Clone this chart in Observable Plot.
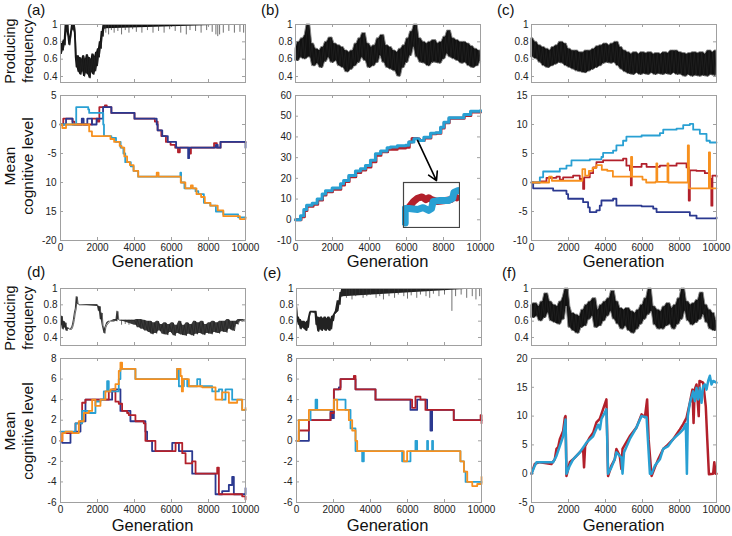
<!DOCTYPE html>
<html><head><meta charset="utf-8">
<script src="https://cdn.jsdelivr.net/npm/d3@7"></script>
<script src="https://cdn.jsdelivr.net/npm/@observablehq/plot@0.6"></script>
<style>
body{margin:0;background:#fff;}
#root{position:relative;width:732px;height:536px;overflow:hidden;font-family:"Liberation Sans",Arial,sans-serif;color:#111;}
.lbl{position:absolute;white-space:nowrap;line-height:1;}
.rot{transform:translate(-50%,-50%) rotate(-90deg);}
.ctr{transform:translate(-50%,-50%);}
</style></head><body><div id="root"></div><script>
// ---------- shared ticks / labels ----------
const xTicks = [0, 2000, 4000, 6000, 8000, 10000];
const freqTicks = [0.4, 0.6, 0.8, 1];
const panelLabels = ["(a)", "(b)", "(c)", "(d)", "(e)", "(f)"];
const xTitle = "Generation";
const yTitleTop = ["Producing", "frequency"];
const yTitleBottom = ["Mean", "cognitive level"];

// sample generations for the noisy producing-frequency traces
const sampleGens = [0,100,200,300,400,500,600,700,800,900,1000,1100,1200,1300,1400,1500,1600,1700,1800,1900,2000,2100,2200,2300,2400,2500,2600,2700,2800,2900,3000,3100,3200,3300,3400,3500,3600,3700,3800,3900,4000,4100,4200,4300,4400,4500,4600,4700,4800,4900,5000,5100,5200,5300,5400,5500,5600,5700,5800,5900,6000,6100,6200,6300,6400,6500,6600,6700,6800,6900,7000,7100,7200,7300,7400,7500,7600,7700,7800,7900,8000,8100,8200,8300,8400,8500,8600,8700,8800,8900,9000,9100,9200,9300,9400,9500,9600,9700,9800,9900,10000];

// ---------- producing frequency ----------
const freqA = [[0,.72],[50,.66],[100,.78],[150,.7],[200,.82],[250,.76],[300,1],[350,.92],[400,1],[450,.86],[500,.76],[550,.84],[600,.92],[650,1],[700,.94],[750,1],[800,.9],[850,.62],[900,.5],[950,.64],[1000,.45],[1050,.62],[1100,.42],[1150,.6],[1200,.46],[1250,.64],[1300,.4],[1350,.6],[1400,.44],[1450,.65],[1500,.42],[1550,.62],[1600,.38],[1650,.6],[1700,.45],[1750,.66],[1800,.42],[1850,.63],[1900,.46],[1950,.68],[2000,.52],[2050,.72],[2100,.62],[2150,.8],[2200,.72],[2250,.92],[2300,.86],[2350,1],[2400,.95],[2450,1],[10000,1]];
const spikesA = [[2450,0.9],[2600,0.88],[2750,0.93],[2900,0.9],[3100,0.92],[3300,0.88],[3500,0.93],[3700,0.9],[3900,0.94],[4100,0.91],[4400,0.9],[4700,0.93],[5000,0.9],[5300,0.92],[5600,0.9],[5900,0.94],[6200,0.92],[6500,0.9],[6800,0.88],[7000,0.93],[7300,0.92],[7600,0.9],[7900,0.93],[8200,0.91],[8400,0.88],[8500,0.86],[8600,0.88],[8800,0.9],[9100,0.92],[9400,0.9],[9700,0.91],[9900,0.9]];
const freqB = [.72,.58,.8,.62,.84,.6,.88,1.0,.62,.78, .52,.72,.55,.7,.5,.74,.57,.8,.62,.85, .56,.78,.58,.76,.52,.74,.5,.7,.45,.68, .48,.7,.52,.78,.56,.84,.62,.9,.58,.78, .5,.74,.52,.76,.56,.84,.64,.88,.56,.76, .5,.74,.48,.7,.46,.68,.4,.72,.5,.76, .56,.84,.64,.92,.74,1.0,.62,.84,.56,.8, .55,.78,.52,.8,.56,.82,.56,.78,.55,.8, .6,.86,.66,.93,.62,.84,.6,.82,.58,.8, .55,.8,.56,.78,.52,.75,.5,.72,.52,.7, .58];
const freqC = [.84,.62,.8,.6,.76,.56,.74,.52,.72,.5, .7,.52,.74,.54,.76,.56,.8,.55,.78,.52, .72,.5,.7,.48,.7,.46,.68,.45,.68,.44, .7,.46,.7,.48,.72,.5,.75,.52,.76,.55, .78,.56,.76,.55,.78,.56,.8,.52,.74,.48, .7,.45,.68,.43,.66,.42,.68,.44,.66,.42, .68,.43,.67,.42,.68,.44,.66,.42,.67,.43, .66,.42,.68,.43,.67,.42,.7,.44,.7,.42, .68,.42,.67,.4,.66,.42,.67,.4,.68,.41, .67,.4,.68,.41,.66,.4,.7,.42,.68,.41, .7];
const freqD = [[0,.68],[50,.56],[100,.66],[150,.5],[200,.6],[250,.52],[300,.58],[350,.48],[400,.52],[500,.5],[600,.5],[650,.52],[700,.56],[750,.62],[800,.7],[850,.75],[900,.9],[950,.82],[1000,.8],[2000,.8],[2050,.78],[2100,.72],[2150,.78],[2200,.62],[2250,.7],[2300,.55],[2350,.5],[2400,.45],[2450,.52],[2500,.55],[2600,.58],[2700,.6],[2900,.6],[3000,.62],[3050,.6],[3100,.72],[3150,.62],[3200,.61],[4000,.61],[4100,.55],[4150,.62],[4300,.52],[4350,.62],[4500,.5],[4550,.61],[4700,.48],[4750,.6],[4850,.46],[4900,.6],[5000,.44],[5100,.58],[5200,.45],[5300,.6],[5400,.48],[5500,.56],[5600,.44],[5700,.58],[5800,.43],[5900,.56],[6000,.46],[6100,.58],[6200,.42],[6300,.55],[6400,.45],[6500,.6],[6600,.43],[6700,.55],[6800,.42],[6900,.58],[7000,.44],[7100,.56],[7200,.42],[7300,.6],[7400,.44],[7500,.58],[7600,.45],[7700,.6],[7800,.43],[7900,.56],[8000,.45],[8100,.58],[8200,.44],[8300,.6],[8400,.46],[8500,.58],[8600,.45],[8700,.6],[8800,.47],[8900,.6],[9000,.46],[9100,.62],[9200,.5],[9300,.6],[9400,.48],[9500,.6],[9600,.56],[9700,.62],[9800,.6],[10000,.62]];
const spikesD = [[3300,0.55],[3500,0.56],[3700,0.55],[3850,0.57]];
const freqE = [[0,.8],[50,.6],[100,.65],[150,.55],[200,.62],[250,.5],[300,.6],[350,.52],[400,.6],[450,.5],[500,.58],[550,.48],[600,.6],[650,.52],[700,.65],[750,.7],[800,.72],[1000,.7],[1050,.72],[1100,.55],[1150,.65],[1200,.47],[1250,.64],[1300,.5],[1350,.65],[1400,.48],[1450,.63],[1500,.5],[1550,.65],[1600,.48],[1650,.63],[1700,.5],[1750,.65],[1800,.48],[1850,.62],[1900,.5],[1950,.66],[2000,.6],[2050,.68],[2100,.7],[2200,.72],[2300,.85],[2350,.8],[2400,.95],[2450,.9],[2500,1],[10000,1]];
const spikesE = [[2700,0.88],[2850,0.92],[3000,0.86],[3200,0.9],[3400,0.93],[3600,0.88],[3800,0.9],[4000,0.92],[4300,0.88],[4500,0.9],[4700,0.86],[5000,0.9],[5300,0.88],[5500,0.92],[5800,0.9],[6000,0.87],[6200,0.91],[6500,0.88],[6700,0.92],[7000,0.9],[7200,0.88],[7400,0.93],[7700,0.9],[8000,0.92],[8400,0.72],[8600,0.9],[8900,0.92],[9200,0.88],[9500,0.9],[9700,0.86],[9900,0.9]];
const freqF = [.8,.64,.82,.66,.78,.6,.84,.64,.94,.7, .84,.6,.8,.58,.78,.56,.84,.62,.9,1.0, .78,.52,.7,.48,.68,.45,.66,.52,.74,.54, .8,.62,.84,.66,.88,.52,.74,.54,.8,.6, .84,.66,.88,.72,.97,.62,.84,.56,.76,.5, .74,.54,.76,.48,.72,.45,.7,.5,.74,.56, .8,.62,.88,.68,1.0,.72,.78,.55,.74,.5, .72,.5,.78,.54,.82,.56,.76,.5,.8,.56, .88,.62,1.0,.72,.84,.6,.8,.55,.82,.58, .86,.62,.95,.68,.8,.58,.74,.5,.7,.48, .6];

// ---------- mean cognitive level: [generation, value] ----------
const aRed = [[0,0],[150,1],[650,0.5],[750,0],[1600,0],[1700,1],[2000,0.5],[2100,3],[2400,3.3],[2500,3],[2750,2],[4000,1],[5100,0.5],[5250,-1],[5450,-2],[5700,-3],[5950,-3.5],[6200,-4],[6350,-4.8],[6450,-4],[6950,-5],[7050,-4],[8300,-3.2],[8450,-4],[8650,-3],[10000,-3]];
const aNavy = [[0,0],[300,1],[650,0],[1150,1],[1250,0],[1450,1],[1700,0],[1950,1],[2300,3],[2750,2],[3900,2],[4000,1],[5200,0],[5250,-1],[5500,-2],[5800,-3],[6250,-4],[6900,-5.8],[6950,-4],[8400,-3.5],[8500,-4],[8650,-3],[9950,-3],[10000,-4]];
const aCyan = [[0,0],[850,3],[1500,2.6],[1550,2],[2300,2],[2310,0],[2350,-2],[2750,-2.3],[3000,-3],[3250,-4],[3400,-5],[3500,-6.5],[3800,-7.2],[3950,-8],[4200,-9],[6450,-9],[6480,-8.3],[6520,-10],[6700,-11],[7300,-11.5],[7450,-12],[7750,-13.5],[8100,-14],[8400,-15],[8800,-15.5],[9600,-16],[10000,-16]];
const aOrange = [[0,0],[100,-0.6],[300,0],[1550,-1.2],[1700,-2],[2700,-2.5],[2900,-3],[3200,-3.7],[3300,-4],[3450,-5.5],[3600,-6.5],[3750,-7],[3950,-8],[4200,-9],[5150,-9],[5200,-8.3],[5300,-9],[6500,-10],[6750,-11],[7050,-10.5],[7150,-11],[7350,-12],[7600,-12.5],[7800,-13.5],[8100,-14],[8500,-14.8],[8800,-15.8],[9700,-16.3],[10000,-16]];
const aYTicks = [5, 0, -5, -10, -15, -20];
const aYTickLabels = ["5", "0", "-5", "10", "15", "-20"];

const bCyan = [[0,0],[270,2],[450,5],[600,7],[900,8],[1170,10],[1440,12.5],[1620,14],[1980,15.3],[2430,17.4],[2600,19],[2880,21.4],[3240,23.5],[3510,24.6],[3780,26.2],[4050,28.7],[4320,31.9],[4600,33.2],[4950,34.8],[5130,35.1],[5500,35.7],[5950,36],[6120,37.5],[6400,39.1],[6670,38.3],[6940,39.9],[7300,41.8],[7570,42],[7840,44.7],[8020,47.1],[8290,49.2],[8740,49.2],[9100,50.8],[9460,52.4],[10000,52.8]];
const bRed = [[0,0],[300,1.5],[480,4.5],[620,6.5],[950,7.5],[1200,9.5],[1460,12],[1650,13.5],[2000,14.8],[2450,16.8],[2650,18.5],[2900,20.8],[3260,22.8],[3530,24],[3800,25.5],[4080,28],[4350,31.2],[4620,32.8],[4980,34],[5500,34.6],[5950,35],[6150,37.5],[6300,39.2],[6600,39],[6700,38.3],[6960,39.5],[7320,41.5],[7600,41.8],[7860,44.3],[8040,46.8],[8310,49],[8760,49],[9120,50.4],[9480,52],[10000,52.2]];
const bYTicks = [60, 50, 40, 30, 20, 10, 0, -10];
const bArrow = [[6600, 38.3, 7620, 18.9]];
const bInsetBox = [5860, 8970, -4.7, 18.2];
const insetRed = [[0.1,0.45],[0.18,0.58],[0.25,0.65],[0.33,0.68],[0.4,0.62],[0.45,0.66],[0.5,0.62],[0.6,0.58],[0.75,0.6],[0.85,0.62],[0.9,0.7],[0.95,0.66]];
const insetCyan = [[0.03,0.1],[0.03,0.42],[0.1,0.42],[0.25,0.4],[0.35,0.44],[0.45,0.38],[0.5,0.42],[0.53,0.58],[0.65,0.6],[0.8,0.6],[0.88,0.65],[0.9,0.78],[0.97,0.82]];

const cCyan = [[0,0],[450,0.9],[630,1.9],[1350,1.9],[1530,2.4],[1890,2.9],[2160,3.8],[3150,4],[3780,4.4],[3870,5.1],[4410,5.5],[4590,6.4],[4950,7.2],[5130,7.9],[5950,8.1],[6940,8.5],[7120,9.1],[7840,9.3],[8200,9.9],[8560,10.1],[8740,9.1],[9100,8.4],[9460,7.2],[9640,6.9],[10000,6.9]];
const cRed = [[0,0],[450,0.2],[810,0.8],[1350,1],[1530,0.5],[1710,0.9],[2250,1.2],[2610,0.6],[2790,-1.1],[2850,0.9],[3150,1.6],[3330,2.6],[3510,3.5],[3870,3.8],[4950,4.1],[5130,2.9],[5320,2.1],[5370,-0.5],[5420,2.7],[5950,3.2],[6220,2.7],[6940,2.9],[7840,3.3],[8380,2.6],[8500,-3.1],[8560,2.1],[8920,2],[9370,1.6],[9640,0.6],[9720,-4],[9780,1.2],[10000,1]];
const cOrange = [[0,0],[800,0],[950,1],[1100,0.3],[2600,0.3],[2750,2.3],[2900,1.2],[3100,2],[3300,2.5],[3500,3],[3800,2.2],[4100,2],[4400,1],[5300,1],[5380,4.4],[5440,1],[5950,1],[6000,0.5],[6200,0],[6700,0.1],[6750,3.3],[6800,0.1],[7300,0.1],[7350,3.3],[7400,0],[8420,0],[8450,6.4],[8510,-1],[9550,-1],[9590,5.2],[9650,-1],[10000,-1]];
const cNavy = [[0,0],[90,-1],[990,-1],[1170,-1.4],[1890,-2],[1980,-2.8],[2430,-2.8],[2790,-3.4],[3060,-4.3],[3150,-5.1],[3510,-4.8],[3690,-4],[3780,-3.1],[4410,-2.8],[4590,-4],[5950,-4.1],[6580,-4.5],[6760,-5.1],[8380,-5.1],[8560,-5.7],[8920,-6.2],[10000,-6]];
const cYTicks = [15, 10, 5, 0, -5, -10];

const dOrange = [[0,0],[100,0.75],[270,0.9],[630,0.75],[990,1.9],[1260,2.7],[1530,2.9],[1710,4],[1890,3.4],[2160,4],[2430,4.8],[2700,5],[2970,5.5],[3150,6.8],[3240,7.6],[3330,7],[3870,7],[4050,6],[5860,6],[6300,7],[6490,6.3],[6560,4.8],[6620,6],[6760,6],[6940,5.3],[7480,5.3],[7660,5.2],[8200,5.2],[8380,4],[8740,4.7],[9100,3.7],[9550,4],[9820,3],[10000,3.2]];
const dCyan = [[0,0.9],[630,0.9],[810,1.7],[1170,2.9],[1530,2.7],[1890,3.8],[2160,4],[2340,4.8],[2520,5.8],[2610,4.8],[2970,4.8],[3150,6],[3240,7],[3870,7],[4050,6],[6220,6],[6300,7],[6400,5.3],[6670,6],[6850,5.3],[7300,5.3],[7390,6],[7550,5.3],[8200,4.8],[8560,5],[8740,4],[8920,5],[9190,5],[9280,4],[9730,4],[9820,3],[10000,3]];
const dRed = [[0,0],[100,0.75],[630,0.75],[810,1.7],[1170,3.7],[1350,4],[2430,4],[2610,4.8],[2880,5],[2970,3.8],[3150,3.6],[3330,2.9],[3600,2.7],[3690,2.5],[4050,1.9],[4500,1.7],[4590,0],[4950,0],[5130,-1],[6040,-1],[6220,-0.2],[6580,-1.2],[6760,-2.2],[7120,-2],[7300,-3.2],[8200,-3.2],[8470,-2.6],[8560,-5.2],[9100,-5.2],[9820,-5.4],[10000,-5.7]];
const dNavy = [[0,0],[90,-0.2],[450,-0.2],[540,0.75],[810,0.9],[1080,1.9],[1350,4],[2700,4],[2790,5],[3150,5],[3240,2.9],[3690,2.9],[3780,1.9],[4410,1.9],[4590,0.9],[4680,0],[4950,-1],[5860,-1],[6040,-0.2],[6310,-0.2],[6400,-1],[6940,-1],[7120,-3.2],[8200,-3.2],[8380,-5.2],[8740,-4.9],[9100,-4.3],[9280,-3.5],[9370,-5.2],[9910,-5.2],[10000,-4.6]];
const deYTicks = [8, 6, 4, 2, 0, -2, -4, -6];

const eRed = [[0,0],[125,1],[490,1],[670,2],[1660,2],[1840,2.7],[2020,5],[2200,5],[2380,6],[2920,6],[3100,6.3],[3190,5],[4180,5],[4270,4],[6160,4],[6250,3.2],[6430,4.3],[6700,4],[6970,3],[8320,3],[8500,2],[9860,2],[9950,2.5],[10000,1.7]];
const eNavy = [[0,0],[580,0],[670,2],[1750,2],[1840,3],[1930,2.2],[2020,5],[2290,5.2],[2380,6],[3100,6],[3190,5],[4180,5],[4270,4],[6070,4],[6160,3],[6430,3],[6520,4],[6880,4],[7060,3],[7240,1],[7330,3],[8410,3],[8500,2],[10000,2]];
const eOrange = [[0,0],[125,2],[580,2],[670,3],[1840,3],[2020,4],[2200,3],[2650,3],[2830,2],[3010,1],[3190,0],[3280,-1],[5620,-1],[5800,-2],[5980,-1],[8680,-1],[8860,-2],[9050,-3],[9230,-4],[9500,-4.4],[9770,-4.2],[10000,-3.5]];
const eCyan = [[0,0],[125,2],[670,2],[760,3],[1030,4],[1120,3],[1840,3],[2020,4],[2650,3],[2920,1.2],[3190,-1],[3460,-1],[3550,-2],[3640,-1],[5620,-1],[5710,-2],[6070,-2],[6160,-1],[6430,0],[6520,-1],[7060,0],[7110,-1],[7330,0],[7380,-1],[8680,-1],[8860,-2],[9050,-3],[9140,-4],[10000,-4]];

const fRed = [[0,0],[180,1.7],[450,2],[1080,1.7],[1260,2.5],[1350,4.3],[1440,4.6],[1530,6],[1710,7.4],[1800,9.7],[1840,10],[1890,-0.4],[2070,2],[2250,2.5],[2610,3.7],[2790,4.3],[2840,1.1],[2900,4.8],[3150,6.3],[3330,7.1],[3510,8.9],[3690,9.5],[3870,11.2],[4050,12.9],[4140,-0.4],[4320,1.4],[4500,2.5],[4590,4.3],[4770,3.1],[4860,0.8],[4920,4.3],[5310,6.5],[5670,8],[5950,10.3],[6130,9.8],[6250,12.9],[6330,6],[6490,-0.4],[6670,1.1],[6850,2.5],[7120,4.3],[7300,4.8],[7660,6],[8020,7.7],[8200,8.6],[8380,9.7],[8560,12.3],[8700,14.6],[8760,8.8],[8820,14.6],[8920,15.5],[9040,10],[9080,16.1],[9280,15.8],[9420,11.7],[9500,6],[9590,-0.1],[9820,0],[9880,2],[9950,0],[10000,0]];
const fCyan = [[0,0],[180,1.4],[270,2],[1170,2],[1350,3.1],[1530,4.8],[1710,6.5],[1840,9.4],[1890,0],[2070,1.4],[2250,2.5],[2610,3.7],[2970,5.4],[3330,6.5],[3600,8.5],[3700,7.7],[3780,9.5],[3960,10.6],[4050,11.2],[4140,0],[4320,1.1],[4500,2.5],[4590,3.7],[4860,2.8],[4920,0],[5000,3.7],[5310,6],[5670,8],[5950,10],[6220,9.8],[6400,0],[6490,0],[6670,1.4],[6940,2.5],[7120,4.3],[7390,4.8],[7660,6],[8020,7.1],[8200,7.7],[8340,8.6],[8400,0],[8450,10],[8560,12.3],[8740,14.3],[8830,12.6],[8920,14.9],[9010,12.9],[9100,14.9],[9190,12.3],[9280,15.2],[9370,15.5],[9460,14.6],[9550,16.1],[9640,17],[9730,15.5],[9820,16.1],[10000,15.8]];
const fYTicks = [20, 15, 10, 5, 0, -5];

// ---------- styling ----------
const FONT = '"Liberation Sans", Arial, Helvetica, sans-serif';
const FRAME = "#a0a0a0";
const NAVY = "#2b3990", RED = "#b2202b", ORANGE = "#f7901e", CYAN = "#29a0d3";
const root = document.getElementById("root");
const plotStyle = {fontFamily: FONT, fontSize: "10px", color: "#222", background: "none", overflow: "visible"};

function place(el, left, top) {
  el.style.position = "absolute";
  el.style.left = left + "px";
  el.style.top = top + "px";
  root.appendChild(el);
  return el;
}
function text(t, x, y, size, cls) {
  const d = document.createElement("div");
  d.className = "lbl " + (cls || "");
  d.textContent = t;
  d.style.fontSize = size + "px";
  place(d, x, y);
}
function frameTicks(xT, yT, xd, yd, w, h) {
  const dy = (yd[1] - yd[0]) * 3 / h, dx = (xd[1] - xd[0]) * 3 / w;
  return [
    Plot.ruleX(xT, {x: d => d, y1: yd[0], y2: yd[0] + dy, stroke: FRAME}),
    Plot.ruleX(xT, {x: d => d, y1: yd[1], y2: yd[1] - dy, stroke: FRAME}),
    Plot.ruleY(yT, {y: d => d, x1: xd[0], x2: xd[0] + dx, stroke: FRAME}),
    Plot.ruleY(yT, {y: d => d, x1: xd[1], x2: xd[1] - dx, stroke: FRAME})
  ];
}
// pairs: [[gen, value]]; the noisy trace is drawn as its local min–max envelope plus the raw trace
function topPlot(fx, fy, fw, fh, ydom, pairs, spikes, spikeTop, fill, k, edge) {
  const ml = 30, mr = 4, mt = 4, mb = 4;
  const svg = Plot.plot({
    width: fw + ml + mr, height: fh + mt + mb,
    marginLeft: ml, marginRight: mr, marginTop: mt, marginBottom: mb,
    style: plotStyle,
    x: {domain: [0, 10000], axis: null},
    y: {domain: ydom, ticks: freqTicks, tickFormat: d => String(d), tickSize: 0, tickPadding: 3, label: null},
    marks: [
      ...frameTicks(xTicks, freqTicks, [0, 10000], ydom, fw, fh),
      Plot.areaY(pairs, Plot.map(
        {y1: Plot.window({k, reduce: "min"}), y2: Plot.window({k, reduce: "max"})},
        {x: d => d[0], y1: d => d[1], y2: d => d[1], fill, stroke: edge || "none", strokeWidth: 0.9})),
      Plot.line(pairs, {x: d => d[0], y: d => d[1], stroke: "#222", strokeWidth: 0.7}),
      Plot.ruleX(spikes, {x: d => d[0], y1: d => d[1], y2: spikeTop, stroke: "#333", strokeWidth: 0.7}),
      Plot.frame({stroke: FRAME})
    ]
  });
  place(svg, fx - ml, fy - mt);
}
function bottomPlot(fx, fy, fw, fh, ydom, yTicks, yFmt, series, sw, curve, extra) {
  const ml = 30, mr = 16, mt = 4, mb = 20;
  const svg = Plot.plot({
    width: fw + ml + mr, height: fh + mt + mb,
    marginLeft: ml, marginRight: mr, marginTop: mt, marginBottom: mb,
    style: plotStyle,
    x: {domain: [0, 10000], ticks: xTicks, tickFormat: d => String(d), tickSize: 0, tickPadding: 3, label: null},
    y: {domain: ydom, ticks: yTicks, tickFormat: yFmt, tickSize: 0, tickPadding: 4, label: null},
    marks: [
      ...frameTicks(xTicks, yTicks, [0, 10000], ydom, fw, fh),
      ...series.map(s => Plot.line(s[0], {x: d => d[0], y: d => d[1], stroke: s[1], strokeWidth: sw, curve})),
      ...(extra || []),
      Plot.frame({stroke: FRAME})
    ]
  });
  place(svg, fx - ml, fy - mt);
  return {svg, left: fx - ml, top: fy - mt};
}
const fmt = d => String(d);
const zipGens = vals => vals.map((v, i) => [sampleGens[i], v]);

// ---------- columns / rows (frame pixel boxes) ----------
const colX = [60, 295, 531], colW = 185;
const row1Top = [24, 58], row1Bot = [95, 145];
const row2Top = [288, 57], row2Bot = [358, 144];
const dom1 = [0.331, 1], dom2 = [0.302, 1];

// Row 1
topPlot(colX[0], row1Top[0], colW, row1Top[1], dom1, freqA, spikesA, 1, "#111", 3, null);
topPlot(colX[1], row1Top[0], colW, row1Top[1], dom1, zipGens(freqB), [], 1, "#111", 3, "#8a8a8a");
topPlot(colX[2], row1Top[0], colW, row1Top[1], dom1, zipGens(freqC), [], 1, "#111", 3, "#8a8a8a");
bottomPlot(colX[0], row1Bot[0], colW, row1Bot[1], [-20, 5], aYTicks, d => aYTickLabels[aYTicks.indexOf(d)],
  [[aRed, RED], [aNavy, NAVY], [aCyan, CYAN], [aOrange, ORANGE]], 1.8, "step-after");
const pB = bottomPlot(colX[1], row1Bot[0], colW, row1Bot[1], [-10, 60], bYTicks, fmt,
  [[bRed, RED], [bCyan, CYAN]], 3, "step-after",
  [Plot.arrow(bArrow, {x1: d => d[0], y1: d => d[1], x2: d => d[2], y2: d => d[3], stroke: "#000", strokeWidth: 1.6, headLength: 9})]);
bottomPlot(colX[2], row1Bot[0], colW, row1Bot[1], [-10, 15], cYTicks, fmt,
  [[cNavy, NAVY], [cRed, RED], [cCyan, CYAN], [cOrange, ORANGE]], 1.8, "step-after");

// inset of (b)
{
  const sx = pB.svg.scale("x"), sy = pB.svg.scale("y");
  const x0 = pB.left + sx.apply(bInsetBox[0]), x1 = pB.left + sx.apply(bInsetBox[1]);
  const y0 = pB.top + sy.apply(bInsetBox[3]), y1 = pB.top + sy.apply(bInsetBox[2]);
  const inset = Plot.plot({
    width: Math.round(x1 - x0), height: Math.round(y1 - y0), margin: 1,
    style: {background: "none", overflow: "hidden"},
    x: {domain: [0, 1], axis: null}, y: {domain: [0, 1], axis: null},
    marks: [
      Plot.frame({fill: "white"}),
      Plot.line(insetRed, {x: d => d[0], y: d => d[1], stroke: RED, strokeWidth: 7, strokeLinecap: "round"}),
      Plot.line(insetCyan, {x: d => d[0], y: d => d[1], stroke: CYAN, strokeWidth: 7, strokeLinecap: "round"}),
      Plot.frame({stroke: "#444", strokeWidth: 1.2})
    ]
  });
  place(inset, Math.round(x0) - 1, Math.round(y0) - 1);
}

// Row 2
topPlot(colX[0], row2Top[0], colW, row2Top[1], dom2, freqD, spikesD, 0.61, "#3a3a3a", 2, null);
topPlot(colX[1] + 1, row2Top[0], colW, row2Top[1], dom2, freqE, spikesE, 1, "#222", 3, null);
topPlot(colX[2], row2Top[0], colW, row2Top[1], dom2, zipGens(freqF), [], 1, "#111", 3, "#8a8a8a");
bottomPlot(colX[0], row2Bot[0], colW, row2Bot[1], [-6, 8], deYTicks, fmt,
  [[dNavy, NAVY], [dRed, RED], [dCyan, CYAN], [dOrange, ORANGE]], 1.8, "step-after");
bottomPlot(colX[1] + 1, row2Bot[0], colW, row2Bot[1], [-6, 8], deYTicks, fmt,
  [[eNavy, NAVY], [eRed, RED], [eCyan, CYAN], [eOrange, ORANGE]], 1.8, "step-after");
bottomPlot(colX[2], row2Bot[0], colW, row2Bot[1], [-5, 20], fYTicks, fmt,
  [[fRed, RED], [fCyan, CYAN]], 2.5, "linear");

// ---------- texts ----------
const labelPos = [[27, 2], [261, 2], [497, 2], [27, 264], [263, 265], [502, 265]];
panelLabels.forEach((t, i) => text(t, labelPos[i][0], labelPos[i][1], 15));
[261, 525].forEach(y => colX.forEach(x => text(xTitle, x + colW / 2, y, 16.5, "ctr")));
[[51, 166], [318, 431]].forEach(([yt, yb]) => {
  text(yTitleTop[0], 10, yt, 14.5, "rot");
  text(yTitleTop[1], 28, yt, 14.5, "rot");
  text(yTitleBottom[0], 10, yb, 15.5, "rot");
  text(yTitleBottom[1], 28, yb, 15.5, "rot");
});
</script></body></html>
